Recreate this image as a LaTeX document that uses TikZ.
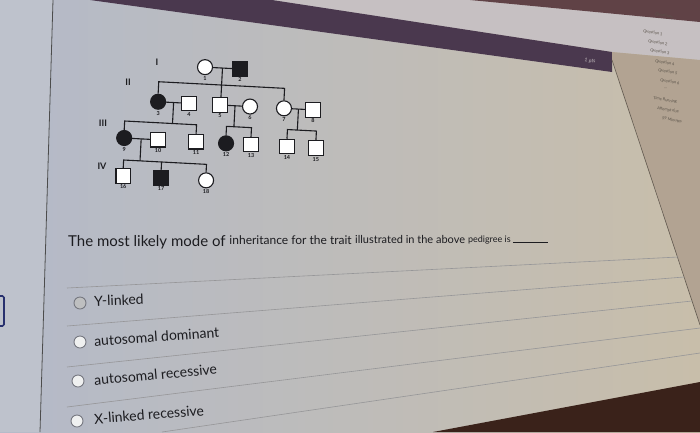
\documentclass[tikz,border=0pt]{standalone}
\usepackage{fontspec}
\setmainfont{Lato}
\usepackage{tikz}
\usetikzlibrary{positioning,calc,shapes.geometric}
\definecolor{inkdark}{RGB}{28,28,32}
\definecolor{scrblue}{RGB}{180,186,201}
\definecolor{scrlight}{RGB}{216,217,218}
\definecolor{scrbeige}{RGB}{200,190,170}
\definecolor{sidegrey}{RGB}{190,194,204}
\definecolor{barplum}{RGB}{74,56,78}
\definecolor{stripgrey}{RGB}{198,192,194}
\definecolor{cornerdark}{RGB}{96,66,70}
\definecolor{sidebeige}{RGB}{178,163,146}
\definecolor{bezelbrown}{RGB}{58,34,26}
\definecolor{rulegrey}{RGB}{150,150,152}
\definecolor{radiogrey}{RGB}{118,120,128}
\definecolor{linknavy}{RGB}{40,48,110}
\tikzset{
  base/.style={inner sep=0pt, text=inkdark},
  male/.style={rectangle, draw=inkdark, fill=white, line width=1.1pt, minimum size=14.5pt, inner sep=0pt},
  female/.style={circle, draw=inkdark, fill=white, line width=1.1pt, minimum size=15pt, inner sep=0pt},
  affected/.style={fill=inkdark},
  tag/.style={font=\bfseries\fontsize{5.5}{6}\selectfont, text=inkdark, inner sep=1pt},
  gen/.style={font=\bfseries\fontsize{9}{10}\selectfont, text=inkdark, inner sep=0pt},
  link/.style={draw=inkdark, line width=1.1pt},
  opt/.style={base, anchor=west, font=\fontsize{14}{16}\selectfont},
  radio/.style={circle, draw=radiogrey, fill=white!60!scrlight, line width=0.9pt, minimum size=12pt, inner sep=0pt},
  sep/.style={draw=rulegrey, line width=0.6pt},
  side/.style={font=\fontsize{4}{5}\selectfont, text=black!50!sidebeige, rotate=-10, anchor=west, inner sep=0pt},
}
\begin{document}
\begin{tikzpicture}[x=1pt,y=-1pt]
  \useasboundingbox (0,0) rectangle (700,432);
  \clip (0,0) rectangle (700,432);
  % screen background
  \shade[left color=scrblue, middle color=scrlight, right color=scrbeige] (0,0) rectangle (700,432);
  \fill[sidegrey] (0,0) -- (53,0) -- (40,432) -- (0,432) -- cycle;
  \draw[black!70, line width=0.8pt] (53,0) -- (40,432);
  \draw[linknavy, line width=1.6pt, rounded corners=1.5pt] (-4,296) rectangle (4,326);
  % header bar and side panel
  \fill[stripgrey] (272,0) -- (700,0) -- (700,60) -- (612,52) -- cycle;
  \fill[cornerdark] (470,0) -- (700,0) -- (700,22) -- cycle;
  \fill[barplum] (90,0) -- (272,0) -- (612,52) -- (612,72) -- cycle;
  \node[font=\fontsize{5}{6}\selectfont, text=stripgrey, rotate=-8] (pts) at (590,61) {1 pts};
  \fill[sidebeige] (612,52) -- (700,60) -- (700,325) -- (612,60) -- cycle;
  \draw[black!45!sidebeige, line width=0.6pt] (612,60) -- (700,325);
  \foreach \i/\x/\y/\t in {1/655/14/{Questions},2/643/31/{Question 1},3/648/41/{Question 2},4/650/50/{Question 3},
      5/655/61/{Question 4},6/658/70/{Question 5},7/660/80/{Question 6},8/664/88/{...},
      9/653/98/{Time Running},10/657/108/{Attempt due},11/662/118/{59 Minutes}}{
    \node[side] (sb\i) at (\x,\y) {\t};
  }
  \fill[bezelbrown] (433,432) -- (700,382) -- (700,432) -- cycle;
  % pedigree
  \begin{scope}[rotate around={-3:(220,125)}]
    \node[female, label={[tag]below:1}] (p1) at (202,68) {};
    \node[male, affected, label={[tag]below:2}] (p2) at (237,68) {};
    \node[female, affected, label={[tag]below:3}] (p3) at (157,105) {};
    \node[male, label={[tag]below:4}] (p4) at (188,105) {};
    \node[male, label={[tag]below:5}] (p5) at (219,105) {};
    \node[female, label={[tag]below:6}] (p6) at (249,105) {};
    \node[female, label={[tag]below:7}] (p7) at (283,105) {};
    \node[male, label={[tag]below:8}] (p8) at (312,105) {};
    \node[female, affected, label={[tag]below:9}] (p9) at (125,143) {};
    \node[male, label={[tag]below:10}] (p10) at (159,143) {};
    \node[male, label={[tag]below:11}] (p11) at (197,143) {};
    \node[female, affected, label={[tag]below:12}] (p12) at (227,143) {};
    \node[male, label={[tag]below:13}] (p13) at (252,143) {};
    \node[male, label={[tag]below:14}] (p14) at (288,143) {};
    \node[male, label={[tag]below:15}] (p15) at (317,143) {};
    \node[male, label={[tag]below:16}] (p16) at (126,181) {};
    \node[male, affected, label={[tag]below:17}] (p17) at (164,181) {};
    \node[female, label={[tag]below:18}] (p18) at (209,181) {};
    \coordinate (sib2) at (0,85);
    \coordinate (sib3) at (0,126);
    \coordinate (sib4) at (0,165);
    % matings
    \draw[link] (p1) -- (p2);
    \draw[link] (p3) -- (p4);
    \draw[link] (p5) -- (p6);
    \draw[link] (p7) -- (p8);
    \draw[link] (p9) -- (p10);
    \coordinate (m12) at ($(p1)!0.5!(p2)$);
    \coordinate (m34) at ($(p3)!0.5!(p4)$);
    \coordinate (m56) at ($(p5)!0.5!(p6)$);
    \coordinate (m78) at ($(p7)!0.5!(p8)$);
    \coordinate (m910) at ($(p9)!0.5!(p10)$);
    % sibships
    \draw[link] (m12) -- (m12 |- p5.north);
    \draw[link] (p3.north) |- (sib2 -| p7.north) -- (p7.north);
    \draw[link] (m34) -- (m34 |- sib3);
    \draw[link] (p9.north) |- (sib3 -| p11.north) -- (p11.north);
    \draw[link] (m56) -- (m56 |- sib3);
    \draw[link] (p12.north) |- (sib3 -| p13.north) -- (p13.north);
    \draw[link] (m78) -- (m78 |- sib3);
    \draw[link] (p14.north) |- (sib3 -| p15.north) -- (p15.north);
    \draw[link] (m910) -- (m910 |- sib4);
    \draw[link] (p16.north) |- (sib4 -| p18.north) -- (p18.north);
    \draw[link] (p17.north) -- (p17.north |- sib4);
  \end{scope}
  \node[gen] (g1) at (157,62) {I};
  \node[gen] (g2) at (128,82) {II};
  \node[gen] (g3) at (103,123) {III};
  \node[gen] (g4) at (102,166) {IV};
  % question
  \node[base, anchor=base west, font=\fontsize{15}{17}\selectfont] (q1) at (68,246) {The most likely mode of};
  \node[base, base right=3.5pt of q1, yshift=1.5pt, font=\fontsize{12}{14}\selectfont] (q2) {inheritance for the trait};
  \node[base, base right=3pt of q2, yshift=1.5pt, font=\fontsize{11}{13}\selectfont] (q3) {illustrated in the above};
  \node[base, base right=2.5pt of q3, yshift=1pt, font=\fontsize{9}{10}\selectfont] (q4) {pedigree is \rule{35pt}{0.5pt}};
  % answer rows
  \draw[sep] (67,288) -- (678,257);
  \draw[sep] (67,326) -- (684,277);
  \draw[sep] (67,367) -- (692,301);
  \draw[sep] (67,407) -- (700,328);
  \draw[sep] (162,432) -- (700,353);
  \node[radio, fill=black!12!scrlight] (r1) at (80,303) {};
  \node[radio] (r2) at (80,342) {};
  \node[radio] (r3) at (78,381) {};
  \node[radio] (r4) at (77,421) {};
  \node[opt, rotate=2] (o1) at (94,301) {Y-linked};
  \node[opt, rotate=4] (o2) at (94,341) {autosomal dominant};
  \node[opt, rotate=5] (o3) at (94,380) {autosomal recessive};
  \node[opt, rotate=4.5] (o4) at (94,419) {X-linked recessive};
\end{tikzpicture}
\end{document}
